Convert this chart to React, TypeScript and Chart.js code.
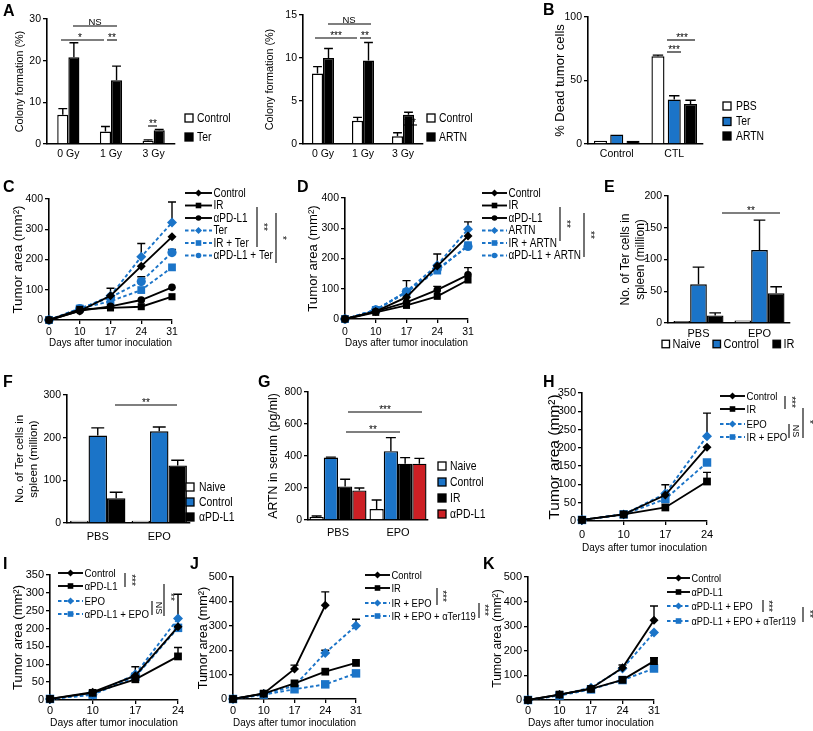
import React, { useEffect, useRef } from 'react';
import { Chart, registerables } from 'chart.js';

Chart.register(...registerables);

const W = 813;
const H = 731;
const BLUE = '#1b74c8';
const RED = '#cc1f24';
const WHITE = '#ffffff';
const BLACK = '#000000';
const REG = '"Liberation Sans", Arial, Helvetica, sans-serif';
const COND = 0.84; // horizontal squeeze for legend text (reference uses a condensed face)

// ---------------- DATA ----------------
// A (left)
const A1_CATEGORIES = ['0 Gy', '1 Gy', '3 Gy'];
const A1_CONTROL = [7.0, 3.0, 0.8];
const A1_CONTROL_SEM = [1.5, 1.2, 0.2];
const A1_TER = [20.8, 15.3, 3.3];
const A1_TER_SEM = [3.5, 3.4, 0.2];
// A (right)
const A2_CATEGORIES = ['0 Gy', '1 Gy', '3 Gy'];
const A2_CONTROL = [8.2, 2.7, 0.9];
const A2_CONTROL_SEM = [0.8, 0.4, 0.4];
const A2_ARTN = [10.0, 9.7, 3.4];
const A2_ARTN_SEM = [1.1, 2.1, 0.3];
// B
const B_CATEGORIES = ['Control', 'CTL'];
const B_PBS = [2.5, 69];
const B_PBS_SEM = [0, 1];
const B_TER = [7.5, 35];
const B_TER_SEM = [0, 3];
const B_ARTN = [2.5, 31.5];
const B_ARTN_SEM = [0, 3];
// C
const DAYS_31 = ['0', '10', '17', '24', '31'];
const DAYS_24 = ['0', '10', '17', '24'];
const C_CONTROL = [0, 30, 80, 178, 275];
const C_CONTROL_SEM = [0, 0, 25, 0, 0];
const C_IR = [0, 35, 40, 44, 77];
const C_APDL1 = [0, 30, 45, 66, 108];
const C_TER = [0, 35, 80, 209, 322];
const C_TER_SEM = [0, 0, 0, 44, 68];
const C_IR_TER = [0, 38, 62, 99, 174];
const C_APDL1_TER = [0, 38, 75, 127, 223];
const C_APDL1_TER_SEM = [0, 0, 0, 16, 10];
// D
const D_CONTROL = [0, 25, 72, 175, 274];
const D_IR = [0, 22, 45, 75, 129];
const D_APDL1 = [0, 25, 55, 96, 146];
const D_APDL1_SEM = [0, 0, 0, 12, 24];
const D_ARTN = [0, 30, 91, 178, 297];
const D_ARTN_SEM = [0, 0, 36, 37, 24];
const D_IR_ARTN = [0, 30, 88, 160, 244];
const D_APDL1_ARTN = [0, 30, 90, 165, 240];
// E
const E_CATEGORIES = ['PBS', 'EPO'];
const E_NAIVE = [3, 4];
const E_CONTROL = [61, 115];
const E_CONTROL_SEM = [27, 47];
const E_IR = [12, 47];
const E_IR_SEM = [4, 10];
// F
const F_CATEGORIES = ['PBS', 'EPO'];
const F_NAIVE = [5, 5];
const F_CONTROL = [205, 215];
const F_CONTROL_SEM = [18, 10];
const F_APDL1 = [58, 135];
const F_APDL1_SEM = [14, 12];
// G
const G_CATEGORIES = ['PBS', 'EPO'];
const G_NAIVE = [18, 68];
const G_NAIVE_SEM = [7, 57];
const G_CONTROL = [390, 430];
const G_CONTROL_SEM = [3, 85];
const G_IR = [210, 352];
const G_IR_SEM = [45, 38];
const G_APDL1 = [185, 352];
const G_APDL1_SEM = [15, 33];
// H
const H_CONTROL = [3, 18, 71, 202];
const H_CONTROL_SEM = [0, 0, 28, 0];
const H_IR = [3, 18, 37, 108];
const H_IR_SEM = [0, 0, 0, 25];
const H_EPO = [3, 18, 75, 232];
const H_EPO_SEM = [0, 0, 0, 63];
const H_IR_EPO = [3, 18, 60, 160];
// I
const I_CONTROL = [3, 22, 68, 205];
const I_APDL1 = [3, 20, 58, 122];
const I_APDL1_SEM = [0, 0, 0, 25];
const I_EPO = [3, 15, 72, 228];
const I_EPO_SEM = [0, 0, 21, 68];
const I_APDL1_EPO = [3, 15, 65, 202];
// J
const J_CONTROL = [0, 23, 123, 384, null];
const J_CONTROL_SEM = [0, 0, 16, 55, 0];
const J_IR = [0, 22, 64, 112, 148];
const J_IR_EPO = [0, 20, 54, 189, 300];
const J_IR_EPO_SEM = [0, 0, 0, 11, 27];
const J_IR_EPO_TER = [0, 18, 40, 60, 105];
// K
const K_CONTROL = [0, 22, 47, 131, 324];
const K_CONTROL_SEM = [0, 0, 0, 11, 58];
const K_APDL1 = [0, 22, 45, 82, 158];
const K_APDL1_SEM = [0, 0, 0, 0, 14];
const K_APDL1_EPO = [0, 20, 50, 128, 274];
const K_APDL1_EPO_TER = [0, 18, 43, 81, 128];

// ---------------- helpers ----------------
type XY = [number, number];
interface TextAnn { t: string; x: number; y: number; rot?: number; size?: number; base?: CanvasTextBaseline }
interface Spec {
  type: 'bar' | 'line';
  labels: string[];
  datasets: any[];
  area: [number, number, number, number];
  yMin: number; yMax: number; yStep: number;
  yTitle: string | string[]; yTitleX: number; yTitleSize: number;
  xTitle?: string; xTitleY?: number; xTitleSize?: number;
  xLabelY: number; tickSize: number; xTickSize?: number;
  legend: { kind: 'box' | 'line'; pos: XY[]; size: number; lineLen?: number; box?: number; gap?: number; mr?: number };
  lines?: number[][];
  texts?: TextAnn[];
  catPct?: number; barPct?: number;
  capFrac?: number;
}

const bar = (label: string, data: number[], sem: number[] | null, color: string) => ({
  label, data, sem, backgroundColor: color, borderColor: BLACK, borderWidth: 1.4, borderSkipped: 'start',
});
const ln = (label: string, data: (number | null)[], sem: number[] | null, color: string, style: string, r: number) => ({
  label, data, sem, borderColor: color, backgroundColor: color, borderWidth: 1.9,
  borderDash: color === BLUE ? [3.5, 2.5] : [], pointStyle: style, pointRadius: r,
  pointBackgroundColor: color, pointBorderColor: color, pointBorderWidth: 0, tension: 0, clip: false,
});

function drawMarker(ctx: CanvasRenderingContext2D, style: string, x: number, y: number, r: number, color: string) {
  ctx.fillStyle = color;
  ctx.beginPath();
  if (style === 'rectRot') {
    ctx.moveTo(x, y - r); ctx.lineTo(x + r, y); ctx.lineTo(x, y + r); ctx.lineTo(x - r, y); ctx.closePath();
  } else if (style === 'rect') {
    const s = r * 0.8; ctx.rect(x - s, y - s, 2 * s, 2 * s);
  } else {
    ctx.arc(x, y, r * 0.8, 0, Math.PI * 2);
  }
  ctx.fill();
}

function condText(ctx: CanvasRenderingContext2D, text: string, x: number, y: number, size: number) {
  ctx.save();
  ctx.font = `${size / COND}px ${REG}`;
  ctx.textBaseline = 'middle';
  ctx.textAlign = 'left';
  ctx.fillStyle = BLACK;
  ctx.translate(x, y);
  ctx.scale(COND, 1);
  ctx.fillText(text, 0, 0);
  ctx.restore();
}

function decorPlugin(s: Spec) {
  const drawErr = (chart: any) => {
    const ctx = chart.ctx as CanvasRenderingContext2D;
    const ys = chart.scales.y;
    chart.data.datasets.forEach((ds: any, i: number) => {
      if (!ds.sem) return;
      const meta = chart.getDatasetMeta(i);
      meta.data.forEach((el: any, j: number) => {
        const v = ds.data[j];
        const e = ds.sem[j];
        if (v == null || !e) return;
        const top = ys.getPixelForValue(v + e);
        const cap = s.type === 'bar' ? el.width * (s.capFrac ?? 0.35) : 4;
        ctx.save();
        ctx.strokeStyle = BLACK; ctx.lineWidth = 1.4; ctx.setLineDash([]);
        ctx.beginPath();
        ctx.moveTo(el.x, el.y); ctx.lineTo(el.x, top);
        ctx.moveTo(el.x - cap, top); ctx.lineTo(el.x + cap, top);
        ctx.stroke();
        ctx.restore();
      });
    });
  };
  return {
    id: 'decor',
    beforeDatasetsDraw(chart: any) { if (s.type === 'line') drawErr(chart); },
    afterDatasetsDraw(chart: any) { if (s.type === 'bar') drawErr(chart); },
    afterDraw(chart: any) {
      const ctx = chart.ctx as CanvasRenderingContext2D;
      ctx.save();
      const lg = s.legend;
      chart.data.datasets.forEach((ds: any, i: number) => {
        const p = lg.pos[i];
        if (!p) return;
        const [x, y] = p;
        if (lg.kind === 'box') {
          const b = lg.box ?? 8;
          ctx.fillStyle = ds.backgroundColor;
          ctx.fillRect(x, y - b / 2, b, b);
          ctx.strokeStyle = BLACK; ctx.lineWidth = 1.3;
          ctx.strokeRect(x, y - b / 2, b, b);
          condText(ctx, ds.label, x + b + (lg.gap ?? 4), y + 0.5, lg.size);
        } else {
          const len = lg.lineLen ?? 25;
          ctx.strokeStyle = ds.borderColor; ctx.lineWidth = 1.9;
          ctx.setLineDash(ds.borderDash || []);
          ctx.beginPath(); ctx.moveTo(x, y); ctx.lineTo(x + len, y); ctx.stroke();
          ctx.setLineDash([]);
          drawMarker(ctx, ds.pointStyle, x + len / 2, y, lg.mr ?? 3.5, ds.borderColor);
          condText(ctx, ds.label, x + len + 1.5, y + 0.5, lg.size);
        }
      });
      ctx.strokeStyle = BLACK; ctx.lineWidth = 1.1; ctx.setLineDash([]);
      (s.lines || []).forEach((l) => {
        ctx.beginPath(); ctx.moveTo(l[0], l[1]); ctx.lineTo(l[2], l[3]); ctx.stroke();
      });
      ctx.fillStyle = BLACK;
      ctx.textAlign = 'center';
      (s.texts || []).forEach((t) => {
        ctx.save();
        ctx.font = `${t.size ?? 10}px ${REG}`;
        ctx.textBaseline = t.base ?? 'alphabetic';
        ctx.translate(t.x, t.y);
        if (t.rot) ctx.rotate((t.rot * Math.PI) / 180);
        ctx.fillText(t.t, 0, 0);
        ctx.restore();
      });
      ctx.restore();
    },
  };
}

function makeConfig(s: Spec): any {
  const [x0, y0, x1, y1] = s.area;
  const ylh = s.yTitleSize * 1.2;
  const L = s.yTitleX - ylh / 2;
  const yw = x0 - L;
  const isLine = s.type === 'line';
  const tl = isLine ? 4 : 0;
  const xts = s.xTickSize ?? s.tickSize;
  const xpad = s.xLabelY - y1 - tl - (xts * 1.2) / 2;
  const bottomEdge = s.xTitle ? (s.xTitleY as number) + ((s.xTitleSize as number) * 1.2) / 2 : y1 + 30;
  const xh = bottomEdge - y1;
  const B = H - bottomEdge;
  return {
    type: s.type,
    data: {
      labels: s.labels,
      datasets: s.datasets.map((d) => (s.type === 'bar'
        ? { ...d, categoryPercentage: s.catPct ?? 0.8, barPercentage: s.barPct ?? 1 }
        : d)),
    },
    plugins: [decorPlugin(s)],
    options: {
      responsive: false,
      maintainAspectRatio: false,
      animation: false,
      events: [],
      layout: { padding: { left: L, top: y0, right: W - x1, bottom: B } },
      plugins: { legend: { display: false }, tooltip: { enabled: false }, title: { display: false } },
      scales: {
        x: {
          type: 'category',
          offset: !isLine,
          grid: {
            display: true, drawOnChartArea: false, drawTicks: isLine, tickLength: tl,
            tickColor: BLACK, tickWidth: 1.3, color: BLACK, lineWidth: 1.3,
          },
          border: { display: true, color: BLACK, width: 1.6 },
          ticks: {
            color: BLACK, font: { family: REG, size: xts }, padding: xpad,
            maxRotation: 0, minRotation: 0, autoSkip: false,
          },
          title: s.xTitle
            ? { display: true, text: s.xTitle, color: BLACK, font: { family: REG, size: s.xTitleSize }, padding: 0 }
            : { display: false },
          afterFit: (sc: any) => { sc.height = xh; },
        },
        y: {
          min: s.yMin,
          max: s.yMax,
          ticks: { stepSize: s.yStep, color: BLACK, font: { family: REG, size: s.tickSize }, padding: 2 },
          grid: {
            display: true, drawOnChartArea: false, drawTicks: true, tickLength: 4,
            tickColor: BLACK, tickWidth: 1.3, color: BLACK, lineWidth: 1.3,
          },
          border: { display: true, color: BLACK, width: 1.6 },
          title: {
            display: true, text: s.yTitle, color: BLACK,
            font: { family: REG, size: s.yTitleSize }, padding: 0,
          },
          afterFit: (sc: any) => { sc.width = yw; },
        },
      },
    },
  };
}

// ---------------- panel specs ----------------
const rowsC = (x: number): XY[] => [193, 205.5, 218, 230.5, 243, 255.5].map((y) => [x, y] as XY);
const TUMOR = 'Tumor area (mm²)';
const DAYS_TITLE = 'Days after tumor inoculation';
const LG = 10.4;
const TK = 10.5;
const XT = 10.6;

const SPECS: Spec[] = [
  {
    type: 'bar', labels: A1_CATEGORIES,
    datasets: [bar('Control', A1_CONTROL, A1_CONTROL_SEM, WHITE), bar('Ter', A1_TER, A1_TER_SEM, BLACK)],
    area: [47, 19, 175, 144], yMin: 0, yMax: 30, yStep: 10,
    yTitle: 'Colony formation (%)', yTitleX: 20, yTitleSize: 10.8,
    xLabelY: 154, tickSize: TK, catPct: 0.52, barPct: 1, capFrac: 0.4,
    legend: { kind: 'box', pos: [[185, 118], [185, 137]], size: LG, box: 8, gap: 4 },
    lines: [[73, 26, 117, 26], [61, 40, 104, 40], [107, 40, 117, 40], [148, 126, 157, 126]],
    texts: [
      { t: 'NS', x: 95, y: 24.5, size: 9.5 },
      { t: '*', x: 80, y: 41, size: 10 },
      { t: '**', x: 112, y: 41, size: 10 },
      { t: '**', x: 153, y: 127, size: 10 },
    ],
  },
  {
    type: 'bar', labels: A2_CATEGORIES,
    datasets: [bar('Control', A2_CONTROL, A2_CONTROL_SEM, WHITE), bar('ARTN', A2_ARTN, A2_ARTN_SEM, BLACK)],
    area: [303, 15, 423, 144], yMin: 0, yMax: 15, yStep: 5,
    yTitle: 'Colony formation (%)', yTitleX: 270, yTitleSize: 10.8,
    xLabelY: 154, tickSize: TK, catPct: 0.55, barPct: 1, capFrac: 0.4,
    legend: { kind: 'box', pos: [[427, 118], [427, 137]], size: LG, box: 8, gap: 4 },
    lines: [[328, 24, 371, 24], [315, 38, 357, 38], [360, 38, 371, 38], [404, 125, 417, 125]],
    texts: [
      { t: 'NS', x: 349, y: 22.5, size: 9.5 },
      { t: '***', x: 336, y: 39, size: 10 },
      { t: '**', x: 365, y: 39, size: 10 },
      { t: '***', x: 410, y: 126, size: 10 },
    ],
  },
  {
    type: 'bar', labels: B_CATEGORIES,
    datasets: [bar('PBS', B_PBS, B_PBS_SEM, WHITE), bar('Ter', B_TER, B_TER_SEM, BLUE), bar('ARTN', B_ARTN, B_ARTN_SEM, BLACK)],
    area: [588, 17, 703, 144], yMin: 0, yMax: 100, yStep: 50,
    yTitle: '% Dead tumor cells', yTitleX: 560, yTitleSize: 13,
    xLabelY: 154, tickSize: TK, catPct: 0.85, barPct: 0.8, capFrac: 0.4,
    legend: { kind: 'box', pos: [[723, 106], [723, 121.5], [723, 136]], size: LG, box: 8, gap: 5 },
    lines: [[667, 40, 695, 40], [667, 52, 681, 52]],
    texts: [
      { t: '***', x: 682, y: 41, size: 10 },
      { t: '***', x: 674, y: 53, size: 10 },
    ],
  },
  {
    type: 'line', labels: DAYS_31,
    datasets: [
      ln('Control', C_CONTROL, C_CONTROL_SEM, BLACK, 'rectRot', 4.5),
      ln('IR', C_IR, null, BLACK, 'rect', 5),
      ln('αPD-L1', C_APDL1, null, BLACK, 'circle', 3.8),
      ln('Ter', C_TER, C_TER_SEM, BLUE, 'rectRot', 5),
      ln('IR + Ter', C_IR_TER, null, BLUE, 'rect', 5.5),
      ln('αPD-L1 + Ter', C_APDL1_TER, C_APDL1_TER_SEM, BLUE, 'circle', 4.6),
    ],
    area: [49, 199, 172, 320], yMin: 0, yMax: 400, yStep: 100,
    yTitle: TUMOR, yTitleX: 18, yTitleSize: 13.4,
    xTitle: DAYS_TITLE, xTitleY: 343, xTitleSize: XT, xLabelY: 332, tickSize: TK,
    legend: { kind: 'line', pos: rowsC(185), size: 10, lineLen: 27 },
    lines: [[257, 207, 257, 247], [276, 213, 276, 263]],
    texts: [
      { t: '**', x: 263, y: 227, rot: 90, size: 10, base: 'middle' },
      { t: '*', x: 282, y: 238, rot: 90, size: 10, base: 'middle' },
    ],
  },
  {
    type: 'line', labels: DAYS_31,
    datasets: [
      ln('Control', D_CONTROL, null, BLACK, 'rectRot', 4.5),
      ln('IR', D_IR, null, BLACK, 'rect', 5),
      ln('αPD-L1', D_APDL1, D_APDL1_SEM, BLACK, 'circle', 3.8),
      ln('ARTN', D_ARTN, D_ARTN_SEM, BLUE, 'rectRot', 5),
      ln('IR + ARTN', D_IR_ARTN, null, BLUE, 'rect', 5.5),
      ln('αPD-L1 + ARTN', D_APDL1_ARTN, null, BLUE, 'circle', 4.6),
    ],
    area: [345, 198, 468, 319], yMin: 0, yMax: 400, yStep: 100,
    yTitle: TUMOR, yTitleX: 313, yTitleSize: 13.2,
    xTitle: DAYS_TITLE, xTitleY: 343, xTitleSize: XT, xLabelY: 332, tickSize: TK,
    legend: { kind: 'line', pos: rowsC(482), size: 10, lineLen: 25 },
    lines: [[560, 207, 560, 241], [584, 213, 584, 257]],
    texts: [
      { t: '**', x: 566, y: 224, rot: 90, size: 10, base: 'middle' },
      { t: '**', x: 590, y: 235, rot: 90, size: 10, base: 'middle' },
    ],
  },
  {
    type: 'bar', labels: E_CATEGORIES,
    datasets: [bar('Naive', E_NAIVE, null, WHITE), bar('Control', E_CONTROL, E_CONTROL_SEM, BLUE), bar('IR', E_IR, E_IR_SEM, BLACK)],
    area: [668, 196, 790, 323], yMin: 0, yMax: 200, yStep: 50,
    yTitle: ['No. of Ter cells in', 'spleen (million)'], yTitleX: 626, yTitleSize: 12,
    xLabelY: 334, tickSize: TK, xTickSize: 11, catPct: 0.82, barPct: 1, capFrac: 0.35,
    legend: { kind: 'box', pos: [[662, 344], [713, 344], [773, 344]], size: 11, box: 7.5, gap: 3 },
    lines: [[722, 213, 780, 213]],
    texts: [{ t: '**', x: 751, y: 214, size: 10 }],
  },
  {
    type: 'bar', labels: F_CATEGORIES,
    datasets: [bar('Naive', F_NAIVE, null, WHITE), bar('Control', F_CONTROL, F_CONTROL_SEM, BLUE), bar('αPD-L1', F_APDL1, F_APDL1_SEM, BLACK)],
    area: [67, 395, 190, 523], yMin: 0, yMax: 300, yStep: 100,
    yTitle: ['No. of Ter cells in', 'spleen (million)'], yTitleX: 20, yTitleSize: 11.5,
    xLabelY: 537, tickSize: TK, xTickSize: 11, catPct: 0.9, barPct: 1, capFrac: 0.35,
    legend: { kind: 'box', pos: [[186, 487], [186, 502], [186, 517]], size: LG, box: 8, gap: 5 },
    lines: [[115, 405, 177, 405]],
    texts: [{ t: '**', x: 146, y: 406, size: 10 }],
  },
  {
    type: 'bar', labels: G_CATEGORIES,
    datasets: [
      bar('Naive', G_NAIVE, G_NAIVE_SEM, WHITE), bar('Control', G_CONTROL, G_CONTROL_SEM, BLUE),
      bar('IR', G_IR, G_IR_SEM, BLACK), bar('αPD-L1', G_APDL1, G_APDL1_SEM, RED),
    ],
    area: [308, 392, 428, 520], yMin: 0, yMax: 800, yStep: 200,
    yTitle: 'ARTN in serum (pg/ml)', yTitleX: 274, yTitleSize: 12.3,
    xLabelY: 533, tickSize: TK, xTickSize: 11, catPct: 0.95, barPct: 1, capFrac: 0.35,
    legend: { kind: 'box', pos: [[438, 466], [438, 482], [438, 498], [438, 514]], size: LG, box: 8, gap: 4 },
    lines: [[348, 412, 422, 412], [346, 432, 400, 432]],
    texts: [{ t: '***', x: 385, y: 413, size: 10 }, { t: '**', x: 373, y: 433, size: 10 }],
  },
  {
    type: 'line', labels: DAYS_24,
    datasets: [
      ln('Control', H_CONTROL, H_CONTROL_SEM, BLACK, 'rectRot', 4.5),
      ln('IR', H_IR, H_IR_SEM, BLACK, 'rect', 5.5),
      ln('EPO', H_EPO, H_EPO_SEM, BLUE, 'rectRot', 5),
      ln('IR + EPO', H_IR_EPO, null, BLUE, 'rect', 6),
    ],
    area: [582, 393, 707, 521], yMin: 0, yMax: 350, yStep: 50,
    yTitle: TUMOR, yTitleX: 555, yTitleSize: 15.5,
    xTitle: DAYS_TITLE, xTitleY: 548, xTitleSize: XT, xLabelY: 535, tickSize: 11,
    legend: { kind: 'line', pos: [[720, 396], [720, 409], [720, 424], [720, 437]], size: 9.6, lineLen: 25 },
    lines: [[785, 396, 785, 409], [789, 424, 789, 438], [803, 408, 803, 438]],
    texts: [
      { t: '***', x: 791, y: 402, rot: 90, size: 10, base: 'middle' },
      { t: 'NS', x: 795, y: 431, rot: 90, size: 9, base: 'middle' },
      { t: '*', x: 809, y: 422, rot: 90, size: 10, base: 'middle' },
    ],
  },
  {
    type: 'line', labels: DAYS_24,
    datasets: [
      ln('Control', I_CONTROL, null, BLACK, 'rectRot', 4.5),
      ln('αPD-L1', I_APDL1, I_APDL1_SEM, BLACK, 'rect', 5.5),
      ln('EPO', I_EPO, I_EPO_SEM, BLUE, 'rectRot', 5),
      ln('αPD-L1 + EPO', I_APDL1_EPO, null, BLUE, 'rect', 6),
    ],
    area: [50, 575, 178, 700], yMin: 0, yMax: 350, yStep: 50,
    yTitle: TUMOR, yTitleX: 18, yTitleSize: 13,
    xTitle: DAYS_TITLE, xTitleY: 723, xTitleSize: XT, xLabelY: 711, tickSize: 11,
    legend: { kind: 'line', pos: [[58, 573], [58, 586], [58, 601], [58, 614]], size: 9.7, lineLen: 25 },
    lines: [[125, 573, 125, 587], [152, 601, 152, 615], [164, 584, 164, 616]],
    texts: [
      { t: '***', x: 131, y: 580, rot: 90, size: 10, base: 'middle' },
      { t: 'NS', x: 158, y: 608, rot: 90, size: 9, base: 'middle' },
      { t: '**', x: 170, y: 597, rot: 90, size: 10, base: 'middle' },
    ],
  },
  {
    type: 'line', labels: DAYS_31,
    datasets: [
      ln('Control', J_CONTROL, J_CONTROL_SEM, BLACK, 'rectRot', 4.5),
      ln('IR', J_IR, null, BLACK, 'rect', 5.5),
      ln('IR + EPO', J_IR_EPO, J_IR_EPO_SEM, BLUE, 'rectRot', 5),
      ln('IR + EPO + αTer119', J_IR_EPO_TER, null, BLUE, 'rect', 6),
    ],
    area: [233, 577, 356, 699], yMin: 0, yMax: 500, yStep: 100,
    yTitle: TUMOR, yTitleX: 203, yTitleSize: 12.7,
    xTitle: DAYS_TITLE, xTitleY: 723, xTitleSize: XT, xLabelY: 711, tickSize: 11,
    legend: { kind: 'line', pos: [[365, 575], [365, 588], [365, 603], [365, 616]], size: 9.4, lineLen: 25 },
    lines: [[437, 588, 437, 605], [479, 603, 479, 618]],
    texts: [
      { t: '***', x: 442, y: 596, rot: 90, size: 10, base: 'middle' },
      { t: '***', x: 484, y: 610, rot: 90, size: 10, base: 'middle' },
    ],
  },
  {
    type: 'line', labels: DAYS_31,
    datasets: [
      ln('Control', K_CONTROL, K_CONTROL_SEM, BLACK, 'rectRot', 4.5),
      ln('αPD-L1', K_APDL1, K_APDL1_SEM, BLACK, 'rect', 5.5),
      ln('αPD-L1 + EPO', K_APDL1_EPO, null, BLUE, 'rectRot', 5),
      ln('αPD-L1 + EPO + αTer119', K_APDL1_EPO_TER, null, BLUE, 'rect', 6),
    ],
    area: [528, 577, 654, 700], yMin: 0, yMax: 500, yStep: 100,
    yTitle: TUMOR, yTitleX: 498, yTitleSize: 12.2,
    xTitle: DAYS_TITLE, xTitleY: 723, xTitleSize: XT, xLabelY: 711, tickSize: 11,
    legend: { kind: 'line', pos: [[667, 578], [667, 592], [667, 606], [667, 621]], size: 9.2, lineLen: 23 },
    lines: [[763, 600, 763, 612], [803, 607, 803, 622]],
    texts: [
      { t: '***', x: 768, y: 606, rot: 90, size: 10, base: 'middle' },
      { t: '**', x: 809, y: 614, rot: 90, size: 10, base: 'middle' },
    ],
  },
];

const LETTERS: { t: string; x: number; y: number }[] = [
  { t: 'A', x: 3, y: 3 }, { t: 'B', x: 543, y: 2 },
  { t: 'C', x: 3, y: 179 }, { t: 'D', x: 297, y: 179 }, { t: 'E', x: 604, y: 179 },
  { t: 'F', x: 3, y: 374 }, { t: 'G', x: 258, y: 374 }, { t: 'H', x: 543, y: 374 },
  { t: 'I', x: 3, y: 556 }, { t: 'J', x: 190, y: 556 }, { t: 'K', x: 483, y: 556 },
];

function Panel({ spec }: { spec: Spec }) {
  const ref = useRef<HTMLCanvasElement | null>(null);
  useEffect(() => {
    if (!ref.current) return;
    const chart = new Chart(ref.current, makeConfig(spec));
    return () => chart.destroy();
  }, [spec]);
  return (
    <canvas
      ref={ref}
      width={W}
      height={H}
      style={{ position: 'absolute', left: 0, top: 0, width: W, height: H }}
    />
  );
}

export default function App() {
  return (
    <div style={{ position: 'fixed', left: 0, top: 0, width: W, height: H, background: '#fff', overflow: 'hidden' }}>
      {SPECS.map((s, i) => <Panel key={i} spec={s} />)}
      {LETTERS.map((l) => (
        <div
          key={l.t}
          style={{
            position: 'absolute', left: l.x, top: l.y, font: `bold 16px ${REG}`, lineHeight: '16px', color: '#000',
          }}
        >
          {l.t}
        </div>
      ))}
    </div>
  );
}
